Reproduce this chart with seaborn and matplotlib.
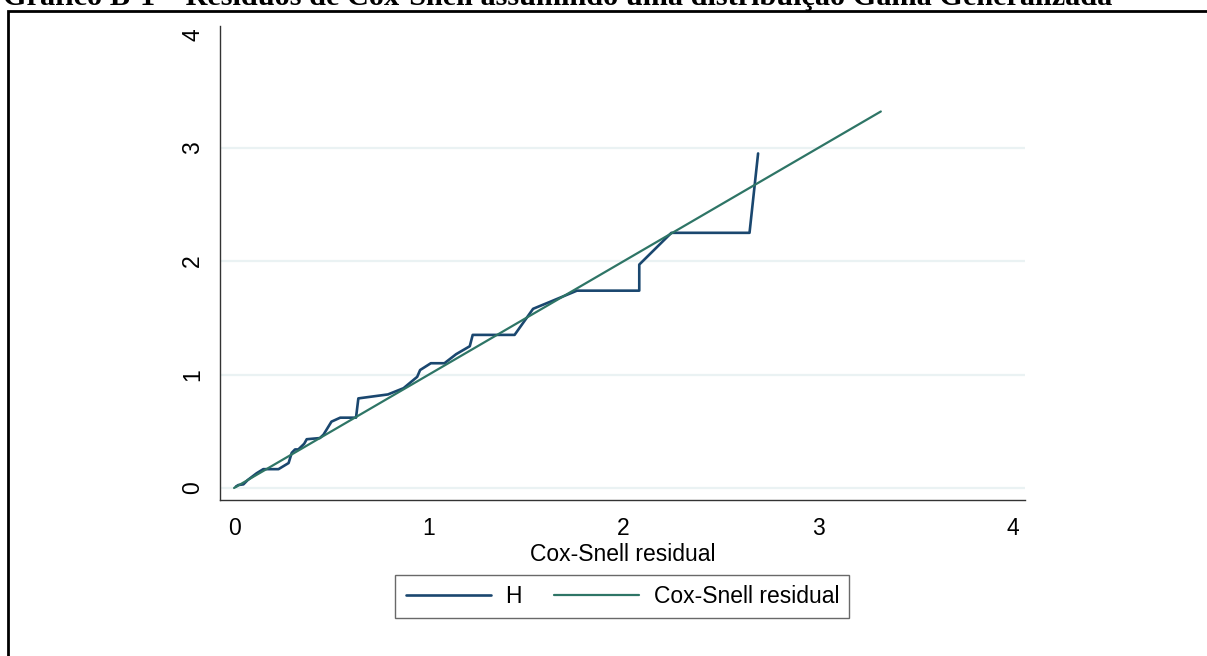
import pandas as pd
import matplotlib.pyplot as plt
import matplotlib.patches as mpatches
import seaborn as sns

# Nelson-Aalen cumulative hazard H vs Cox-Snell residual
cs_resid = [0.009, 0.022, 0.048, 0.07, 0.116, 0.15, 0.228, 0.28, 0.296, 0.313,
            0.33, 0.36, 0.373, 0.44, 0.459, 0.50, 0.545, 0.626, 0.638, 0.79,
            0.87, 0.94, 0.955, 1.01, 1.08, 1.14, 1.21, 1.225, 1.44, 1.535,
            1.62, 1.76, 2.08, 2.08, 2.245, 2.646, 2.69]
H_vals = [0.012, 0.026, 0.032, 0.07, 0.13, 0.166, 0.166, 0.22, 0.31, 0.34,
          0.34, 0.39, 0.43, 0.44, 0.47, 0.585, 0.62, 0.62, 0.79, 0.825,
          0.88, 0.98, 1.04, 1.10, 1.10, 1.18, 1.25, 1.35, 1.35, 1.58,
          1.64, 1.74, 1.74, 1.97, 2.25, 2.25, 2.95]
# 45 degree reference line: residual against itself
ref_resid = [0.0, 3.32]

series_labels = ['H', 'Cox-Snell residual']
ticks = [0, 1, 2, 3, 4]
title_text = 'Gráfico B-1 – Resíduos de Cox-Snell assumindo uma distribuição Gama Generalizada'

navy = '#1a476f'
teal = '#2e7566'

df = pd.concat([
    pd.DataFrame({'x': cs_resid, 'y': H_vals, 'serie': series_labels[0]}),
    pd.DataFrame({'x': ref_resid, 'y': ref_resid, 'serie': series_labels[1]}),
])

sns.set_style('white')
plt.rcParams['font.family'] = ['Liberation Sans', 'DejaVu Sans']
plt.rcParams['text.color'] = 'black'
plt.rcParams['axes.labelcolor'] = 'black'
plt.rcParams['xtick.labelcolor'] = 'black'
plt.rcParams['ytick.labelcolor'] = 'black'

fig = plt.figure(figsize=(12.07, 6.56), dpi=100)
ax = fig.add_axes([0.1823, 0.2378, 0.6669, 0.7226])

sns.lineplot(data=df[df['serie'] == series_labels[0]], x='x', y='y', sort=False,
             estimator=None, color=navy, linewidth=1.9, ax=ax, label=series_labels[0])
sns.lineplot(data=df[df['serie'] == series_labels[1]], x='x', y='y', sort=False,
             estimator=None, color=teal, linewidth=1.6, ax=ax, label=series_labels[1])

ax.set_xlim(-0.072, 4.06)
ax.set_ylim(-0.106, 4.074)
ax.set_xticks(ticks)
ax.set_yticks(ticks)
ax.set_xlabel('Cox-Snell residual', fontsize=16.5, labelpad=2, color='black')
ax.set_ylabel('')

for s in ['top', 'right']:
    ax.spines[s].set_visible(False)
for s in ['left', 'bottom']:
    ax.spines[s].set_color('#333333')
    ax.spines[s].set_linewidth(1.0)

ax.tick_params(axis='both', direction='out', length=6.5, width=0.9, color='#555555',
               labelsize=16.5, labelcolor='black')
ax.tick_params(axis='x', pad=6)
ax.tick_params(axis='y', pad=5, labelrotation=90)
for lab in ax.get_yticklabels():
    lab.set_va('center')

ax.yaxis.grid(True, color='#eaf2f3', linewidth=1.6)
ax.xaxis.grid(False)
ax.get_ygridlines()[-1].set_visible(False)
ax.set_axisbelow(True)

handles, labels = ax.get_legend_handles_labels()
ax.get_legend().remove()
leg = fig.legend(handles, labels, loc='center', bbox_to_anchor=(0.5157, 0.0907),
                 ncol=2, fontsize=16.5, frameon=True, fancybox=False,
                 edgecolor='#444444', handlelength=3.7, handletextpad=0.65,
                 columnspacing=1.4, borderpad=0.45)
leg.get_frame().set_linewidth(1.0)
for t in leg.get_texts():
    t.set_color('black')

# page frame and caption from the document the chart was cut out of
frame = mpatches.Rectangle((7.5 / 1207, -0.2), 1.2, 1 - 11 / 656 + 0.2,
                           transform=fig.transFigure, fill=False,
                           edgecolor='black', linewidth=2.0, clip_on=False)
fig.patches.append(frame)
fig.text(3 / 1207, 1 - 5 / 656, title_text, fontsize=21.8, fontweight='bold',
         family=['Liberation Serif', 'DejaVu Serif'], va='baseline', ha='left')

fig.savefig('out.png', dpi=100)
